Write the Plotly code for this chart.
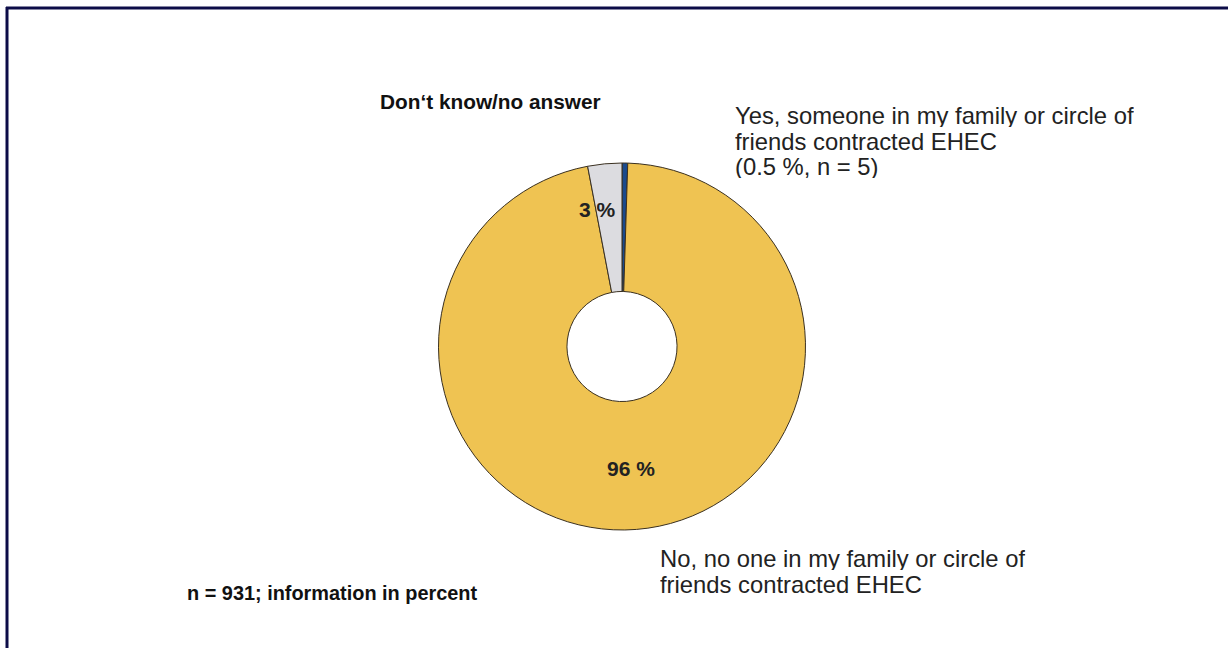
import plotly.graph_objects as go

# Data
categories = ["Yes, someone in my family or circle of friends contracted EHEC",
              "No, no one in my family or circle of friends contracted EHEC",
              "Don‘t know/no answer"]
values = [0.5, 96.5, 3.0]
slice_labels = ["", "96 %", "3 %"]
colors = ["#1B4A8C", "#EFC352", "#DCDCE0"]
yes_lines = ["Yes, someone in my family or circle of", "friends contracted EHEC", "(0.5 %, n = 5)"]
no_lines = ["No, no one in my family or circle of", "friends contracted EHEC"]
note = "n = 931; information in percent"

W, H = 1228, 648
cx, cy, R = 622, 346.5, 183.5

def px(x):
    return x / W

def py(y):
    return (H - y) / H

fig = go.Figure()
fig.add_trace(go.Pie(
    labels=categories,
    values=values,
    sort=False,
    direction="clockwise",
    rotation=0,
    hole=0.3,
    marker=dict(colors=colors, line=dict(color="#3a3020", width=1)),
    textinfo="none",
    hoverinfo="label+percent",
    showlegend=False,
    domain=dict(x=[px(cx - R), px(cx + R)], y=[py(cy + R), py(cy - R)]),
))

font_reg = "Liberation Sans, Arial, sans-serif"
ann = []
# slice value labels
ann.append(dict(x=px(631), y=py(468), text="<b>" + slice_labels[1] + "</b>",
                font=dict(size=21, color="#222222", family=font_reg)))
ann.append(dict(x=px(597), y=py(209), text="<b>" + slice_labels[2] + "</b>",
                font=dict(size=21, color="#222222", family=font_reg)))
# category labels
ann.append(dict(x=px(378), y=py(101), xanchor="left", text="<b>" + categories[2] + "</b>",
                font=dict(size=20.8, color="#111111", family=font_reg)))
for i, line in enumerate(yes_lines):
    ann.append(dict(x=px(733), y=py(115 + 25.5 * i), xanchor="left", text=line, height=24,
                    font=dict(size=23.8, color="#222222", family=font_reg)))
for i, line in enumerate(no_lines):
    ann.append(dict(x=px(658), y=py(558 + 25.5 * i), xanchor="left", text=line, height=24,
                    font=dict(size=23.8, color="#222222", family=font_reg)))
ann.append(dict(x=px(185), y=py(593), xanchor="left",
                text="<b>" + note + "</b>",
                font=dict(size=19.9, color="#111111", family=font_reg)))
for a in ann:
    a.setdefault("xanchor", "center")
    a.setdefault("yanchor", "middle")
    a.update(xref="paper", yref="paper", showarrow=False)

fig.update_layout(
    width=W, height=H,
    margin=dict(l=0, r=0, t=0, b=0),
    paper_bgcolor="white",
    plot_bgcolor="white",
    annotations=ann,
    shapes=[
        dict(type="line", xref="paper", yref="paper", x0=px(6), x1=1, y0=py(8), y1=py(8),
             line=dict(color="#0c0c48", width=3)),
        dict(type="line", xref="paper", yref="paper", x0=px(7), x1=px(7), y0=py(7), y1=0,
             line=dict(color="#0c0c48", width=3)),
    ],
)

fig.write_html("out.html", config={"displayModeBar": False},
               post_script="document.body.style.margin='0';document.body.style.overflow='hidden';")
